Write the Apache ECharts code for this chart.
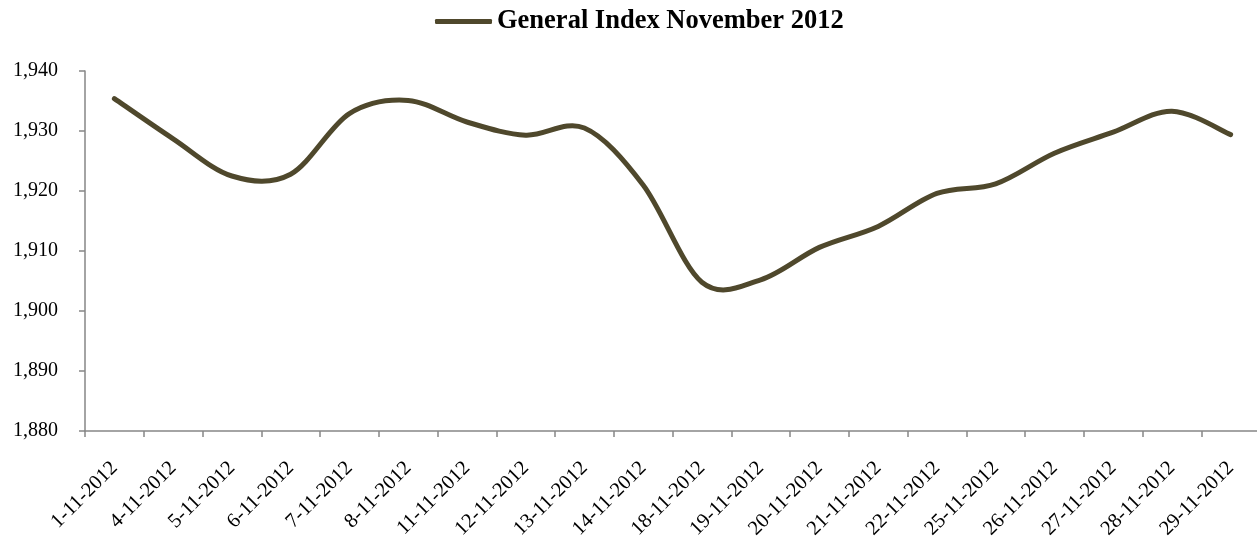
<!DOCTYPE html>
<html>
<head>
<meta charset="utf-8">
<script src="https://cdn.jsdelivr.net/npm/echarts@6/dist/echarts.min.js"></script>
<style>
  html, body { margin: 0; padding: 0; background: #ffffff; }
  #chart { width: 1257px; height: 537px; }
</style>
</head>
<body>
<div id="chart"></div>
<script>
// Trading days of November 2012
const categories = [
  '1-11-2012', '4-11-2012', '5-11-2012', '6-11-2012', '7-11-2012',
  '8-11-2012', '11-11-2012', '12-11-2012', '13-11-2012', '14-11-2012',
  '18-11-2012', '19-11-2012', '20-11-2012', '21-11-2012', '22-11-2012',
  '25-11-2012', '26-11-2012', '27-11-2012', '28-11-2012', '29-11-2012'
];

// Closing value of the general index
const generalIndex = [
  1935.4, 1928.7, 1922.5, 1922.8, 1932.9,
  1935.1, 1931.5, 1929.3, 1930.5, 1921.0,
  1904.8, 1905.2, 1910.6, 1914.1, 1919.6,
  1921.2, 1926.3, 1929.8, 1933.3, 1929.4
];

// Value axis range
const yMin = 1880;
const yMax = 1940;
const yStep = 10;

const seriesName = 'General Index November 2012';
const lineColor = '#4F482C';
const axisColor = '#868686';
const serif = '"Liberation Serif", "Times New Roman", serif';

// Smoothed path through every point (Catmull-Rom segments as cubic Béziers),
// the curve passes exactly through each data point.
function smoothPath(pts) {
  let d = 'M' + pts[0][0] + ' ' + pts[0][1];
  for (let i = 0; i < pts.length - 1; i++) {
    const p0 = pts[Math.max(i - 1, 0)];
    const p1 = pts[i];
    const p2 = pts[i + 1];
    const p3 = pts[Math.min(i + 2, pts.length - 1)];
    const c1x = p1[0] + (p2[0] - p0[0]) / 6;
    const c1y = p1[1] + (p2[1] - p0[1]) / 6;
    const c2x = p2[0] - (p3[0] - p1[0]) / 6;
    const c2y = p2[1] - (p3[1] - p1[1]) / 6;
    d += ' C' + c1x + ' ' + c1y + ' ' + c2x + ' ' + c2y + ' ' + p2[0] + ' ' + p2[1];
  }
  return d;
}

const chart = echarts.init(document.getElementById('chart'), null, { renderer: 'canvas' });

chart.setOption({
  animation: false,
  backgroundColor: '#ffffff',
  legend: {
    data: [seriesName],
    left: 430,
    top: 3,
    icon: 'roundRect',
    itemWidth: 57,
    itemHeight: 5,
    textStyle: {
      fontFamily: serif,
      fontSize: 26.5,
      fontWeight: 'bold',
      color: '#000000'
    }
  },
  grid: {
    left: 85,
    right: -3,
    top: 71,
    bottom: 106,
    containLabel: false,
    outerBoundsMode: 'none'
  },
  xAxis: {
    type: 'category',
    data: categories,
    boundaryGap: true,
    axisLine: { lineStyle: { color: axisColor, width: 1.5 } },
    axisTick: { show: true, length: 6, alignWithLabel: false, lineStyle: { color: axisColor, width: 1.5 } },
    axisLabel: {
      interval: 0,
      rotate: 45,
      margin: 34,
      fontFamily: serif,
      fontSize: 20.5,
      color: '#000000'
    },
    splitLine: { show: false }
  },
  yAxis: {
    type: 'value',
    min: yMin,
    max: yMax,
    interval: yStep,
    axisLine: { show: true, lineStyle: { color: axisColor, width: 1.5 } },
    axisTick: { show: true, length: 6, lineStyle: { color: axisColor, width: 1.5 } },
    axisLabel: {
      margin: 27,
      fontFamily: serif,
      fontSize: 20,
      color: '#000000',
      formatter: v => v.toLocaleString('en-US')
    },
    splitLine: { show: false }
  },
  series: [{
    name: seriesName,
    type: 'custom',
    data: generalIndex.map((v, i) => [i, v]),
    encode: { x: 0, y: 1 },
    itemStyle: { color: lineColor },
    clip: false,
    renderItem: function (params, api) {
      if (params.dataIndex !== 0) return null;
      const pts = generalIndex.map((v, i) => api.coord([i, v]));
      return {
        type: 'path',
        shape: { pathData: smoothPath(pts) },
        style: {
          fill: 'none',
          stroke: lineColor,
          lineWidth: 5,
          lineCap: 'round',
          lineJoin: 'round'
        }
      };
    }
  }]
});
</script>
</body>
</html>
